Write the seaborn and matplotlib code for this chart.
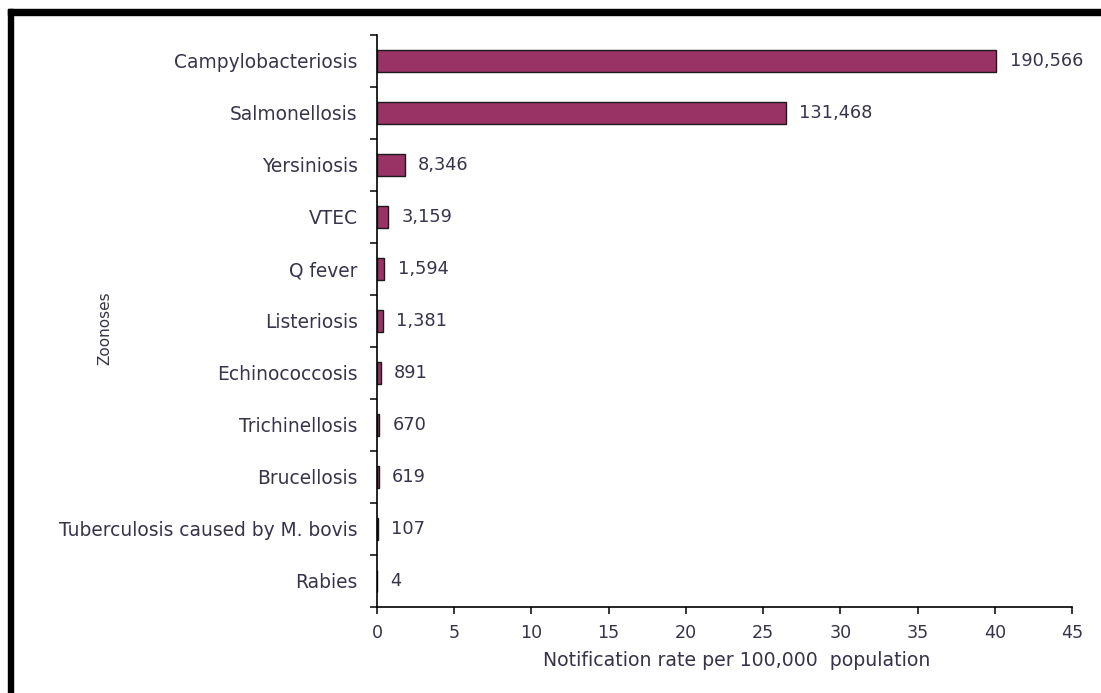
import matplotlib
matplotlib.use("Agg")
import matplotlib.pyplot as plt
from matplotlib.patches import Rectangle
from matplotlib.ticker import FixedLocator
import seaborn as sns
import pandas as pd

diseases = ["Campylobacteriosis", "Salmonellosis", "Yersiniosis", "VTEC", "Q fever",
            "Listeriosis", "Echinococcosis", "Trichinellosis", "Brucellosis",
            "Tuberculosis caused by M. bovis", "Rabies"]
rates = [40.1, 26.5, 1.8, 0.72, 0.48, 0.37, 0.25, 0.16, 0.13, 0.08, 0.0]
cases = [190566, 131468, 8346, 3159, 1594, 1381, 891, 670, 619, 107, 4]
x_ticks = [0, 5, 10, 15, 20, 25, 30, 35, 40, 45]

df = pd.DataFrame({"disease": diseases, "rate": rates, "cases": cases})

sns.set_theme(style="white")
plt.rcParams["font.family"] = ["DejaVu Sans"]
txt = "#38334a"

fig = plt.figure(figsize=(11.01, 6.93), dpi=100)
ax = fig.add_axes([0.3424, 0.1241, 0.6313, 0.8254])

sns.barplot(data=df, y="disease", x="rate", orient="h", color="#993366",
            saturation=1, width=0.42, edgecolor="#1a1a1a", linewidth=1.0, ax=ax)

ax.set_xlim(0, 45)
ax.set_ylim(len(diseases) - 0.5, -0.5)
ax.set_xticks(x_ticks)
ax.set_xticklabels([str(t) for t in x_ticks], fontsize=12.6, color=txt)
ax.set_yticks(range(len(diseases)))
ax.set_yticklabels(diseases, fontsize=13.4, color=txt)
ax.yaxis.set_minor_locator(FixedLocator([i - 0.5 for i in range(len(diseases) + 1)]))
ax.tick_params(axis="y", which="major", length=0, pad=14)
ax.tick_params(axis="y", which="minor", length=5, width=1.1, color="black", left=True)
ax.tick_params(axis="x", which="major", length=5, width=1.1, color="black", bottom=True, pad=7)

for s in ["top", "right"]:
    ax.spines[s].set_visible(False)
for s in ["left", "bottom"]:
    ax.spines[s].set_color("black")
    ax.spines[s].set_linewidth(1.2)

for i, (r, c) in enumerate(zip(rates, cases)):
    ax.annotate(f"{c:,}", xy=(r, i), xytext=(9.5, 0), textcoords="offset points",
                va="center", ha="left", fontsize=12.8, color=txt)

ax.set_xlabel("Notification rate per 100,000  population", fontsize=13.6, color=txt)
ax.set_ylabel("Zoonoses", fontsize=11, color=txt)
ax.yaxis.set_label_coords(-0.38, 0.488)
ax.xaxis.set_label_coords(0.517, -0.077)

# black frame on top and left
fig.patches.append(Rectangle((0.0073, 0.978), 0.9927, 0.009, transform=fig.transFigure,
                             color="black", zorder=10))
fig.patches.append(Rectangle((0.0073, 0.0), 0.0045, 0.987, transform=fig.transFigure,
                             color="black", zorder=10))

fig.savefig("out.png", dpi=100, facecolor="white")
